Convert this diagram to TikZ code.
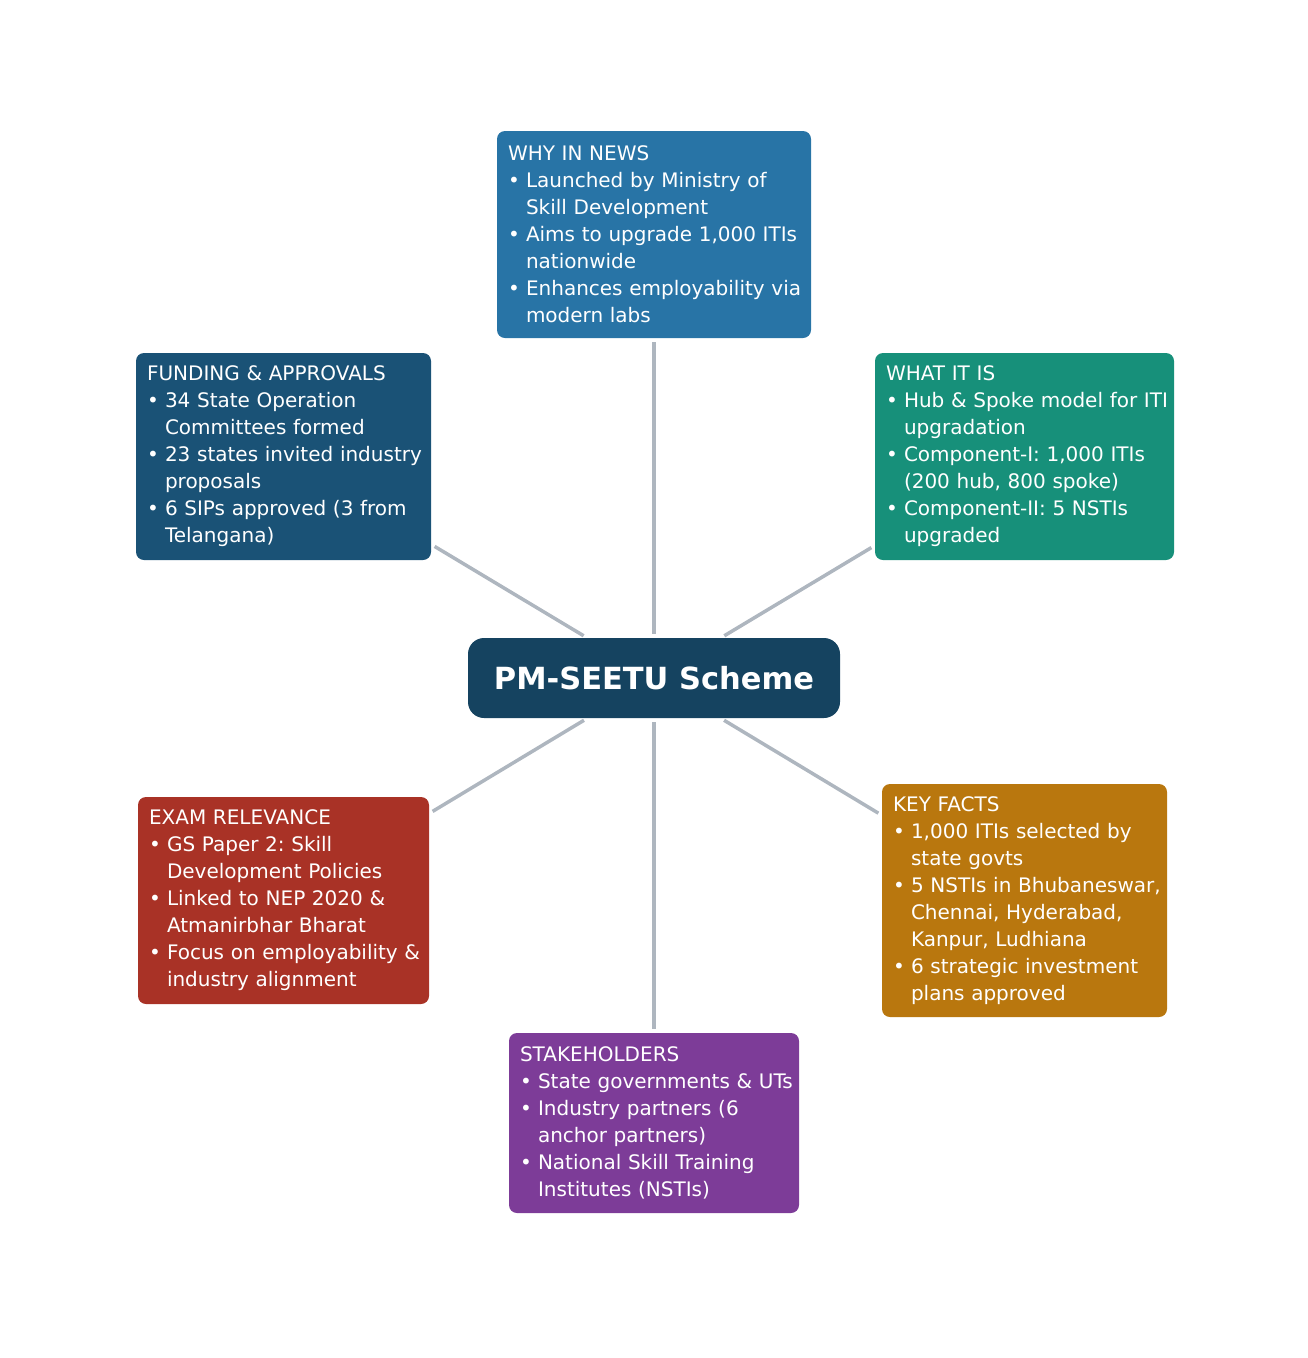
\documentclass[tikz,border=0pt]{standalone}
\usepackage{fontspec}
\setmainfont{DejaVu Sans}
\frenchspacing
\definecolor{cwhy}{HTML}{2874A6}
\definecolor{cfund}{HTML}{1A5276}
\definecolor{cwhat}{HTML}{17907A}
\definecolor{ccent}{HTML}{154360}
\definecolor{cexam}{HTML}{A93226}
\definecolor{ckey}{HTML}{B9770E}
\definecolor{cstake}{HTML}{7D3C98}
\definecolor{cline}{HTML}{AEB6BF}
\newcommand{\ttl}[1]{\mbox{#1}}
\newcommand{\bul}[1]{\mbox{\makebox[18pt][l]{•}#1}}
\newcommand{\cnt}[1]{\mbox{\hspace*{18pt}#1}}
\begin{document}
\begin{tikzpicture}[x=1pt,y=-1pt,
  infobox/.style={rectangle, rounded corners=8pt, text=white, align=left,
    inner xsep=11pt, inner ysep=0pt, font=\fontsize{20}{27}\selectfont\frenchspacing},
  centbox/.style={rectangle, rounded corners=16pt, fill=ccent, text=white,
    minimum width=372pt, minimum height=80pt, inner sep=0pt,
    font=\fontsize{30.5}{36}\selectfont\bfseries},
  conn/.style={draw=cline, line width=3.5pt, shorten >=4pt, shorten <=4pt}]
\useasboundingbox (0,0) rectangle (1308,1358);

\node[centbox] (c) at (654,678) {PM-SEETU Scheme};

\node[infobox, fill=cwhy, text width=292pt, minimum height=207pt] (why) at (654,234.5)
 {\ttl{WHY IN NEWS}\\
  \bul{Launched by Ministry of}\\
  \cnt{Skill Development}\\
  \bul{Aims to upgrade 1,000 ITIs}\\
  \cnt{nationwide}\\
  \bul{Enhances employability via}\\
  \cnt{modern labs}};

\node[infobox, fill=cfund, text width=273pt, minimum height=207pt] (fund) at (283.5,456.5)
 {\ttl{FUNDING \& APPROVALS}\\
  \bul{34 State Operation}\\
  \cnt{Committees formed}\\
  \bul{23 states invited industry}\\
  \cnt{proposals}\\
  \bul{6 SIPs approved (3 from}\\
  \cnt{Telangana)}};

\node[infobox, fill=cwhat, text width=277pt, minimum height=207pt] (what) at (1024.5,456.5)
 {\ttl{WHAT IT IS}\\
  \bul{Hub \& Spoke model for ITI}\\
  \cnt{upgradation}\\
  \bul{Component-I: 1,000 ITIs}\\
  \cnt{(200 hub, 800 spoke)}\\
  \bul{Component-II: 5 NSTIs}\\
  \cnt{upgraded}};

\node[infobox, fill=cexam, text width=269pt, minimum height=207pt] (exam) at (283.5,900.5)
 {\ttl{EXAM RELEVANCE}\\
  \bul{GS Paper 2: Skill}\\
  \cnt{Development Policies}\\
  \bul{Linked to NEP 2020 \&}\\
  \cnt{Atmanirbhar Bharat}\\
  \bul{Focus on employability \&}\\
  \cnt{industry alignment}};

\node[infobox, fill=ckey, text width=263pt, minimum height=233pt] (key) at (1024.5,900.5)
 {\ttl{KEY FACTS}\\
  \bul{1,000 ITIs selected by}\\
  \cnt{state govts}\\
  \bul{5 NSTIs in Bhubaneswar,}\\
  \cnt{Chennai, Hyderabad,}\\
  \cnt{Kanpur, Ludhiana}\\
  \bul{6 strategic investment}\\
  \cnt{plans approved}};

\node[infobox, fill=cstake, text width=268pt, minimum height=180pt] (stake) at (654,1123)
 {\ttl{STAKEHOLDERS}\\
  \bul{State governments \& UTs}\\
  \bul{Industry partners (6}\\
  \cnt{anchor partners)}\\
  \bul{National Skill Training}\\
  \cnt{Institutes (NSTIs)}};

\draw[conn] (c) -- (why);
\draw[conn] (c) -- (fund);
\draw[conn] (c) -- (what);
\draw[conn] (c) -- (exam);
\draw[conn] (c) -- (key);
\draw[conn] (c) -- (stake);
\end{tikzpicture}
\end{document}
